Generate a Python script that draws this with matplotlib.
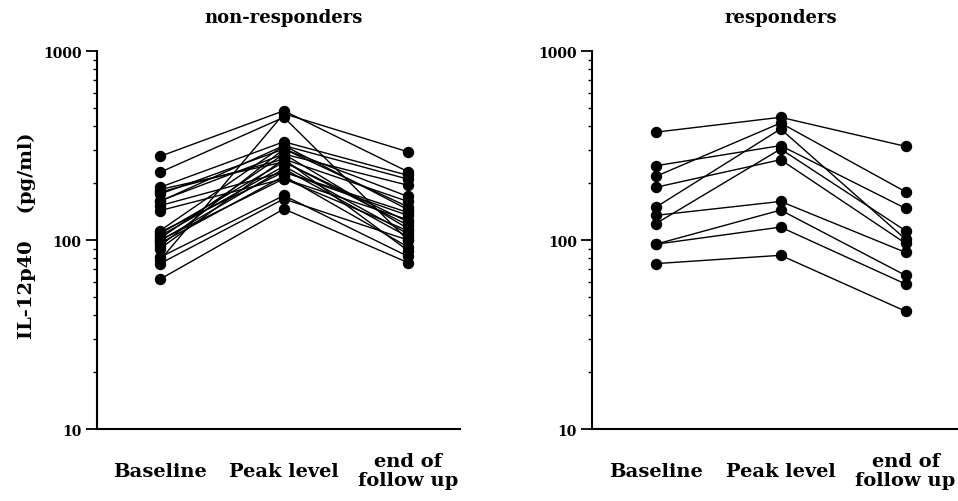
import matplotlib.pyplot as plt
from matplotlib.ticker import NullFormatter, LogLocator

plt.rcParams['font.family'] = ['DejaVu Serif']
plt.rcParams['font.weight'] = 'bold'

stages = ["Baseline", "Peak level", "end of\nfollow up"]

# non-responders (pg/ml), one entry per patient
nr_baseline = [277, 228, 190, 179, 175, 161, 152, 143, 112, 108, 105, 102,
               99, 96, 93, 90, 81, 78, 62, 75, 110, 185, 160, 100]
nr_peak = [483, 446, 331, 268, 303, 285, 229, 211, 316, 259, 246, 285,
           238, 218, 303, 268, 172, 466, 146, 165, 229, 259, 316, 211]
nr_end = [230, 100, 220, 160, 150, 195, 135, 128, 145, 120, 108, 115,
          104, 92, 170, 88, 82, 293, 76, 100, 140, 125, 210, 112]

# responders (pg/ml)
r_baseline = [372, 247, 217, 190, 149, 135, 122, 95, 95, 75]
r_peak = [446, 316, 416, 266, 387, 160, 303, 144, 117, 83]
r_end = [313, 147, 180, 96, 101, 86, 112, 65, 58.5, 42]

fig = plt.figure(figsize=(9.58, 5.02), dpi=100)
ax1 = fig.add_axes([0.101, 0.1434, 0.379, 0.753])
ax2 = fig.add_axes([0.618, 0.1434, 0.382, 0.753])


def draw_panel(ax, base, peak, end, title):
    xs = [0, 1, 2]
    for b, p, e in zip(base, peak, end):
        ax.plot(xs, [b, p, e], color='black', lw=1.0, marker='o', ms=7.2,
                clip_on=False, zorder=3)
    ax.set_yscale('log')
    ax.set_ylim(10, 1000)
    ax.set_xlim(-0.51, 2.42)
    ax.set_yticks([10, 100, 1000])
    ax.set_yticklabels(['10', '100', '1000'])
    ax.yaxis.set_minor_locator(LogLocator(base=10, subs=range(2, 10)))
    ax.yaxis.set_minor_formatter(NullFormatter())
    ax.tick_params(axis='y', which='major', length=8, width=1.3,
                   labelsize=10, pad=3)
    ax.tick_params(axis='y', which='minor', length=3, width=1.0)
    ax.set_xticks(xs)
    ax.set_xticklabels(stages, fontsize=14, linespacing=1.05)
    for lbl in ax.get_xticklabels():
        lbl.set_verticalalignment('center')
    ax.tick_params(axis='x', length=0, pad=30)
    for s in ['top', 'right']:
        ax.spines[s].set_visible(False)
    for s in ['left', 'bottom']:
        ax.spines[s].set_linewidth(1.5)
    ax.text(1, 1.09, title, transform=ax.get_xaxis_transform(),
            ha='center', va='center', fontsize=13)


draw_panel(ax1, nr_baseline, nr_peak, nr_end, "non-responders")
draw_panel(ax2, r_baseline, r_peak, r_end, "responders")

fig.text(0.028, 0.53, "IL-12p40    (pg/ml)", rotation=90,
         ha='center', va='center', fontsize=14)

fig.savefig("out.png", dpi=100)
